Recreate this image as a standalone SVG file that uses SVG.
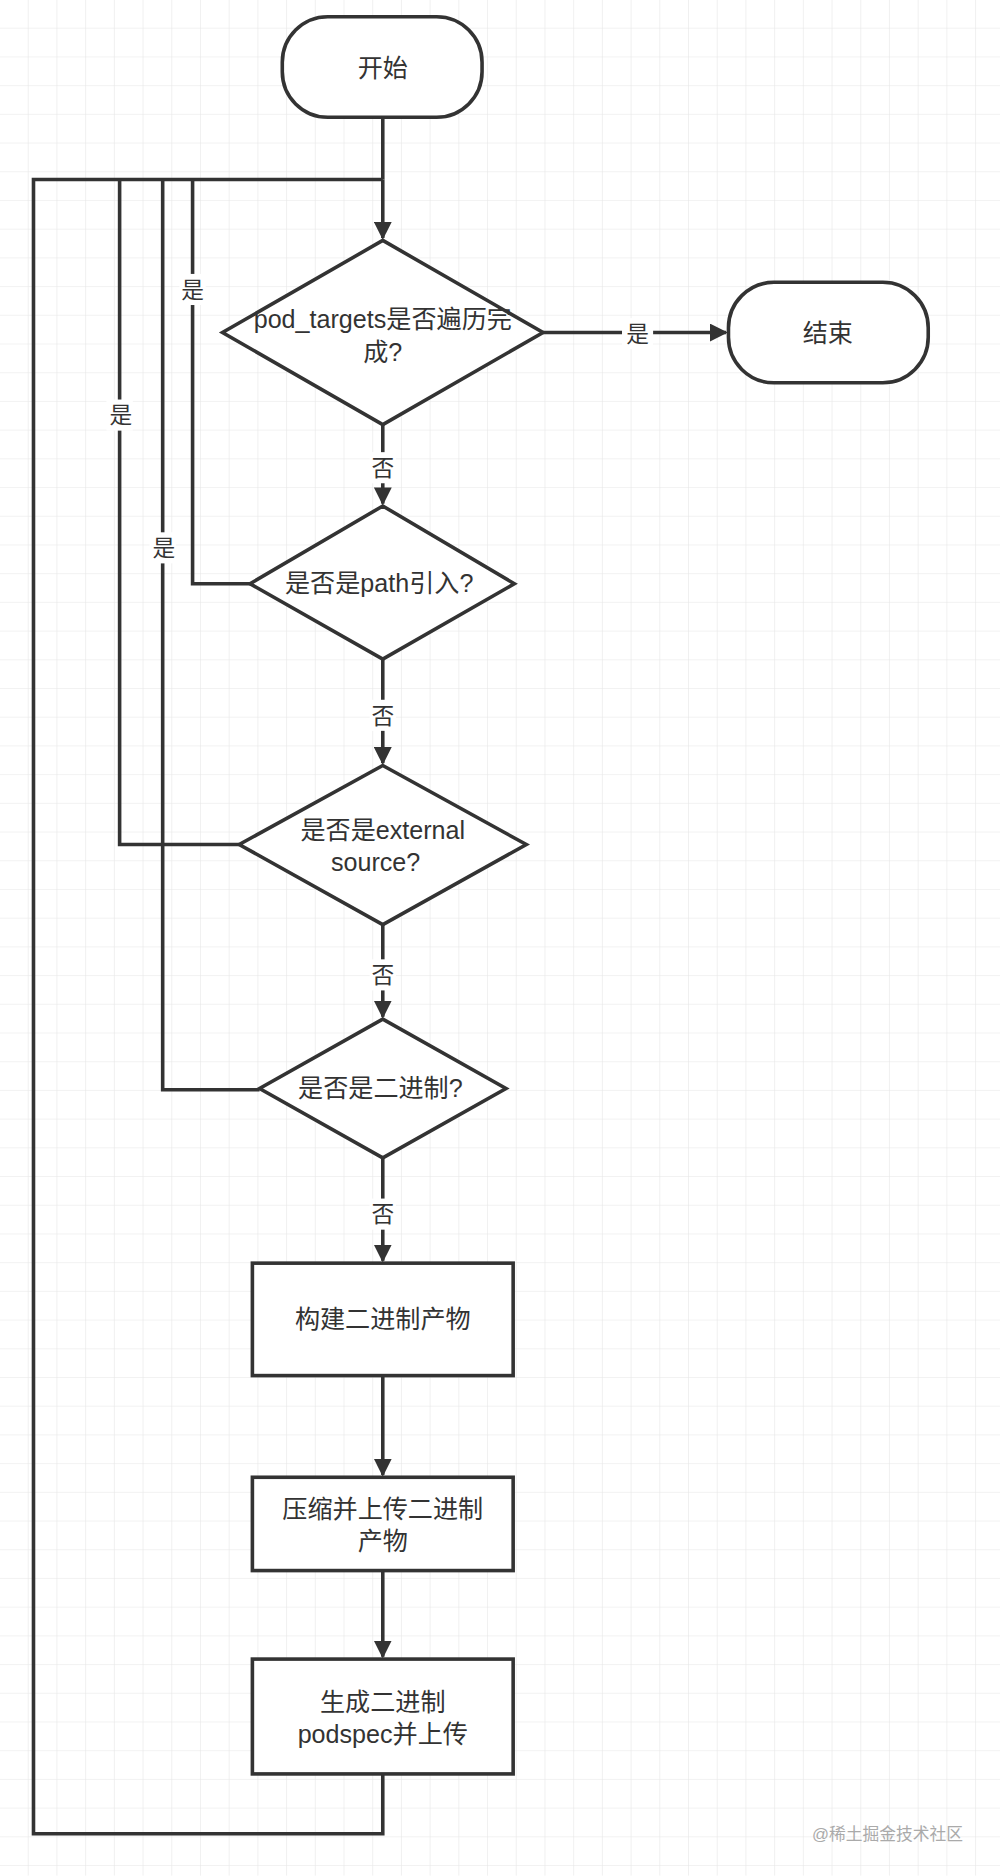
<svg xmlns="http://www.w3.org/2000/svg" width="1000" height="1876" viewBox="0 0 1000 1876">
<defs>
<pattern id="grid" width="24" height="24" patternUnits="userSpaceOnUse"><path d="M24 0V24M0 24H24" fill="none" stroke="#e6e6e6" stroke-width="1"/></pattern>
<marker id="ah" viewBox="0 0 10 10" refX="9" refY="5" markerWidth="5" markerHeight="5" orient="auto" markerUnits="strokeWidth"><path d="M0 0L10 5L0 10z" fill="#333"/></marker>
<style>
.n{fill:#fff;stroke:#333;stroke-width:3}
.c{fill:none;stroke:#333;stroke-width:3}
.a{marker-end:url(#ah)}
text{font-family:"Liberation Sans","Noto Sans CJK SC",sans-serif;font-size:21px;fill:#333;text-anchor:middle}
.l{font-size:19px}
</style>
</defs>
<g transform="scale(1.19617)">
<rect width="836" height="1568" fill="#fff"/>
<rect width="836" height="1568" fill="url(#grid)"/>
<g id="connectors">
<path class="c" d="M320 98V150"/>
<path class="c a" d="M320 150V199"/>
<path class="c" d="M320 1483V1533H28V150H320"/>
<path class="c" d="M100 150V706H200"/>
<path class="c" d="M136 150V911H217"/>
<path class="c" d="M161 150V488H209"/>
<path class="c a" d="M454 278H607"/>
<path class="c a" d="M320 355V421"/>
<path class="c a" d="M320 551V638"/>
<path class="c a" d="M320 773V850"/>
<path class="c a" d="M320 968V1054"/>
<path class="c a" d="M320 1150V1233"/>
<path class="c a" d="M320 1313V1385"/>
<g>
<rect x="150" y="229" width="22" height="26" fill="#fff"/><text class="l" x="161" y="249">是</text>
<rect x="89" y="334" width="22" height="26" fill="#fff"/><text class="l" x="101" y="354">是</text>
<rect x="125" y="445" width="22" height="26" fill="#fff"/><text class="l" x="137" y="465">是</text>
<rect x="520" y="266" width="26" height="26" fill="#fff"/><text class="l" x="533" y="286">是</text>
<rect x="309" y="378" width="22" height="26" fill="#fff"/><text class="l" x="320" y="398">否</text>
<rect x="309" y="585" width="22" height="26" fill="#fff"/><text class="l" x="320" y="605">否</text>
<rect x="309" y="802" width="22" height="26" fill="#fff"/><text class="l" x="320" y="822">否</text>
<rect x="309" y="1002" width="22" height="26" fill="#fff"/><text class="l" x="320" y="1022">否</text>
</g>
</g>
<g id="start"><rect class="n" x="236" y="14" width="167" height="84" rx="38"/><text x="320" y="64">开始</text></g>
<g id="end"><rect class="n" x="609" y="236" width="167" height="84" rx="38"/><text x="692" y="286">结束</text></g>
<g id="d1"><path class="n" d="M320 201L454 278L320 355L186 278Z"/><text x="320" y="274">pod_targets是否遍历完</text><text x="320" y="302">成?</text></g>
<g id="d2"><path class="n" d="M320 423L430 488L320 551L209 488Z"/><text x="317" y="495">是否是path引入?</text></g>
<g id="d3"><path class="n" d="M320 640L440 706L320 773L200 706Z"/><text x="320" y="701">是否是external</text><text x="314" y="728">source?</text></g>
<g id="d4"><path class="n" d="M320 852L423 910L320 968L217 910Z"/><text x="318" y="917">是否是二进制?</text></g>
<g id="r1"><rect class="n" x="211" y="1056" width="218" height="94"/><text x="320" y="1110">构建二进制产物</text></g>
<g id="r2"><rect class="n" x="211" y="1235" width="218" height="78"/><text x="320" y="1269">压缩并上传二进制</text><text x="320" y="1296">产物</text></g>
<g id="r3"><rect class="n" x="211" y="1387" width="218" height="96"/><text x="320" y="1430">生成二进制</text><text x="320" y="1457">podspec并上传</text></g>
<text x="742" y="1538" style="font-size:14px;fill:#aaa">@稀土掘金技术社区</text>
</g>
</svg>
